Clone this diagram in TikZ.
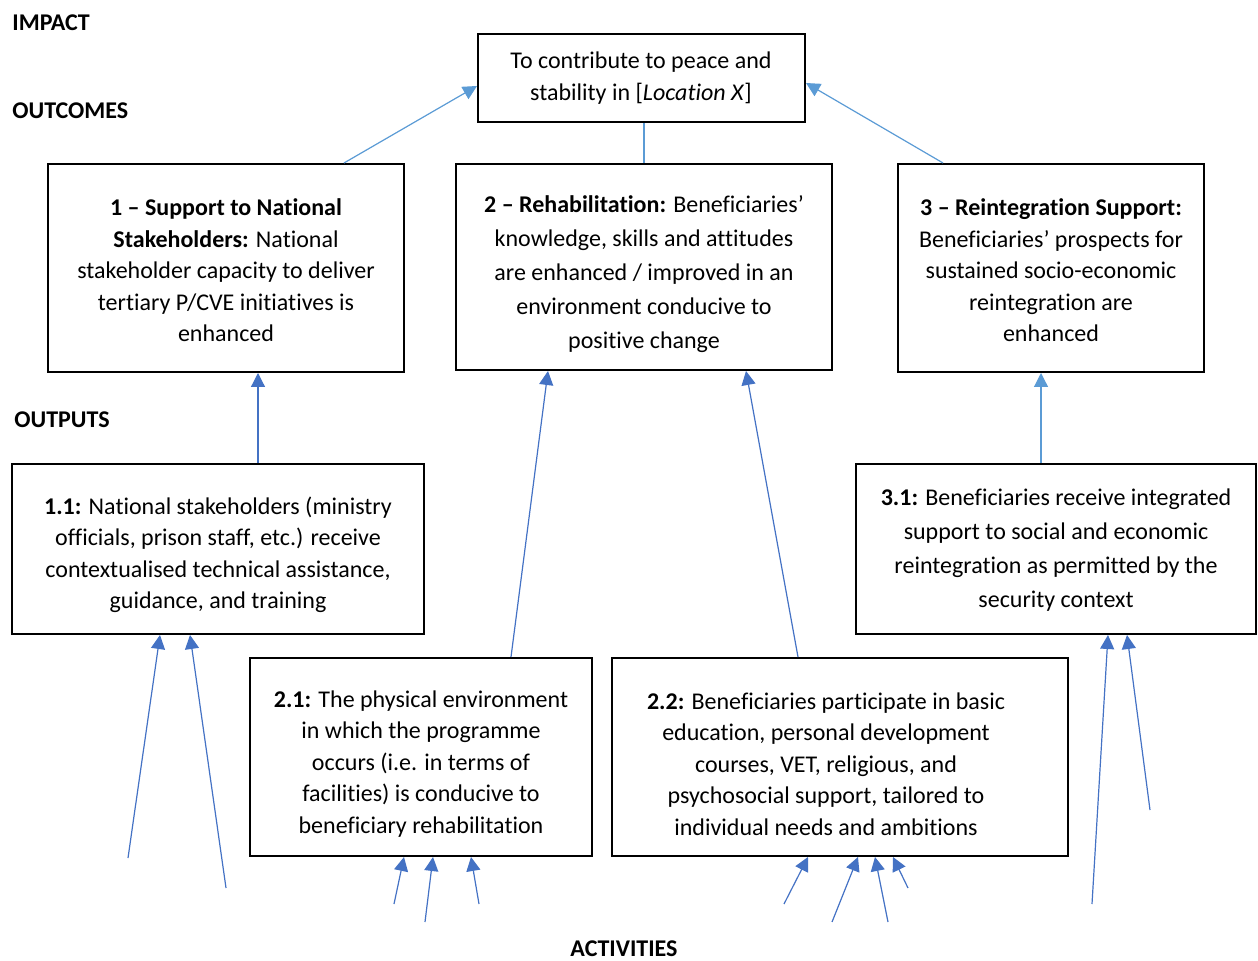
\documentclass[tikz,border=0pt]{standalone}
\usepackage{fontspec}
\setmainfont{Carlito}[Ligatures={NoCommon}]
\usetikzlibrary{arrows.meta,calc}
\definecolor{lblue}{HTML}{5B9BD5}
\definecolor{dblue}{HTML}{4472C4}
\begin{document}
\begin{tikzpicture}[x=0.5pt,y=-0.5pt,
  box/.style={draw,line width=1pt,inner sep=0pt},
  txt/.style={align=center,inner sep=0pt,font=\fontsize{12}{15.75}\selectfont},
  txti/.style={align=center,inner sep=0pt,font=\fontsize{12}{16}\selectfont},
  txtw/.style={align=center,inner sep=0pt,font=\fontsize{12}{17}\selectfont},
  lbl/.style={anchor=west,inner sep=0pt,font=\bfseries\fontsize{12}{14}\selectfont},
  lb/.style={draw=lblue,line width=0.6pt,-{Triangle[length=7pt,width=7pt]}},
  db/.style={draw=dblue,line width=0.6pt,-{Triangle[length=7pt,width=7pt]}},
  plain/.style={draw=lblue,line width=0.6pt}]
\useasboundingbox (0,0) rectangle (1258,961);

% headings
\node[lbl] (himp) at (12,23) {IMPACT};
\node[lbl] (hout) at (12,111) {OUTCOMES};
\node[lbl] (hop) at (14,420) {OUTPUTS};
\node[lbl,anchor=center] (hact) at (624,949) {ACTIVITIES};

% boxes
\node[box,minimum width=163.5pt,minimum height=44pt] (imp) at (641.5,78) {};
\node[box,minimum width=178pt,minimum height=104pt] (b1) at (226,268) {};
\node[box,minimum width=188pt,minimum height=103pt] (b2) at (644,267) {};
\node[box,minimum width=153pt,minimum height=104pt] (b3) at (1051,268) {};
\node[box,minimum width=206pt,minimum height=85pt] (o11) at (218,549) {};
\node[box,minimum width=200pt,minimum height=85pt] (o31) at (1056,549) {};
\node[box,minimum width=171pt,minimum height=99pt] (o21) at (421,757) {};
\node[box,minimum width=228pt,minimum height=99pt] (o22) at (840,757) {};

% texts
\node[txti] (timp) at (641,78)
  {To contribute to peace and\\stability in [\textit{Location X}]};
\node[txt] (tb1) at (226,270.5)
  {\textbf{1 – Support to National}\\\textbf{Stakeholders:} National\\stakeholder capacity to deliver\\tertiary P/CVE initiatives is\\enhanced};
\node[txtw] (tb2) at (644,274.5)
  {\textbf{2 – Rehabilitation:} Beneficiaries’\\knowledge, skills and attitudes\\are enhanced / improved in an\\environment conducive to\\positive change};
\node[txt] (tb3) at (1051,270.5)
  {\textbf{3 – Reintegration Support:}\\Beneficiaries’ prospects for\\sustained socio-economic\\reintegration are\\enhanced};
\node[txt] (to11) at (218,555)
  {\textbf{1.1:} National stakeholders (ministry\\officials, prison staff, etc.) receive\\contextualised technical assistance,\\guidance, and training};
\node[txtw] (to31) at (1056,550)
  {\textbf{3.1:} Beneficiaries receive integrated\\support to social and economic\\reintegration as permitted by the\\security context};
\node[txt] (to21) at (421,764)
  {\textbf{2.1:} The physical environment\\in which the programme\\occurs (i.e. in terms of\\facilities) is conducive to\\beneficiary rehabilitation};
\node[txt] (to22) at (826,764)
  {\textbf{2.2:} Beneficiaries participate in basic\\education, personal development\\courses, VET, religious, and\\psychosocial support, tailored to\\individual needs and ambitions};

% outcome -> impact
\draw[lb] (b1.north -| 344,0) -- (imp.west |- 0,86);
\draw[plain] (b2.north) -- (imp.south -| b2.north);
\draw[lb] (b3.north -| 943,0) -- (imp.east |- 0,83);

% outputs -> outcomes
\draw[db] (o11.north -| 258,0) -- (b1.south -| 258,0);
\draw[db] (o21.north -| 511,0) -- (b2.south -| 548,0);
\draw[db] (o22.north -| 798,0) -- (b2.south -| 746,0);
\draw[lb] (o31.north -| 1041,0) -- (b3.south -| 1041,0);

% activity free ends
\coordinate (a1) at (128,858);
\coordinate (a2) at (226,888);
\coordinate (a3) at (394,904);
\coordinate (a4) at (425,922);
\coordinate (a5) at (479,904);
\coordinate (a6) at (784,904);
\coordinate (a7) at (832,922);
\coordinate (a8) at (888,922);
\coordinate (a9) at (908,888);
\coordinate (a10) at (1092,904);
\coordinate (a11) at (1150,810);

\draw[db] (a1) -- (o11.south -| 160,0);
\draw[db] (a2) -- (o11.south -| 190,0);
\draw[db] (a3) -- (o21.south -| 404,0);
\draw[db] (a4) -- (o21.south -| 433,0);
\draw[db] (a5) -- (o21.south -| 471,0);
\draw[db] (a6) -- (o22.south -| 808,0);
\draw[db] (a7) -- (o22.south -| 858,0);
\draw[db] (a8) -- (o22.south -| 875,0);
\draw[db] (a9) -- (o22.south -| 893,0);
\draw[db] (a10) -- (o31.south -| 1108,0);
\draw[db] (a11) -- (o31.south -| 1127,0);
\end{tikzpicture}
\end{document}
